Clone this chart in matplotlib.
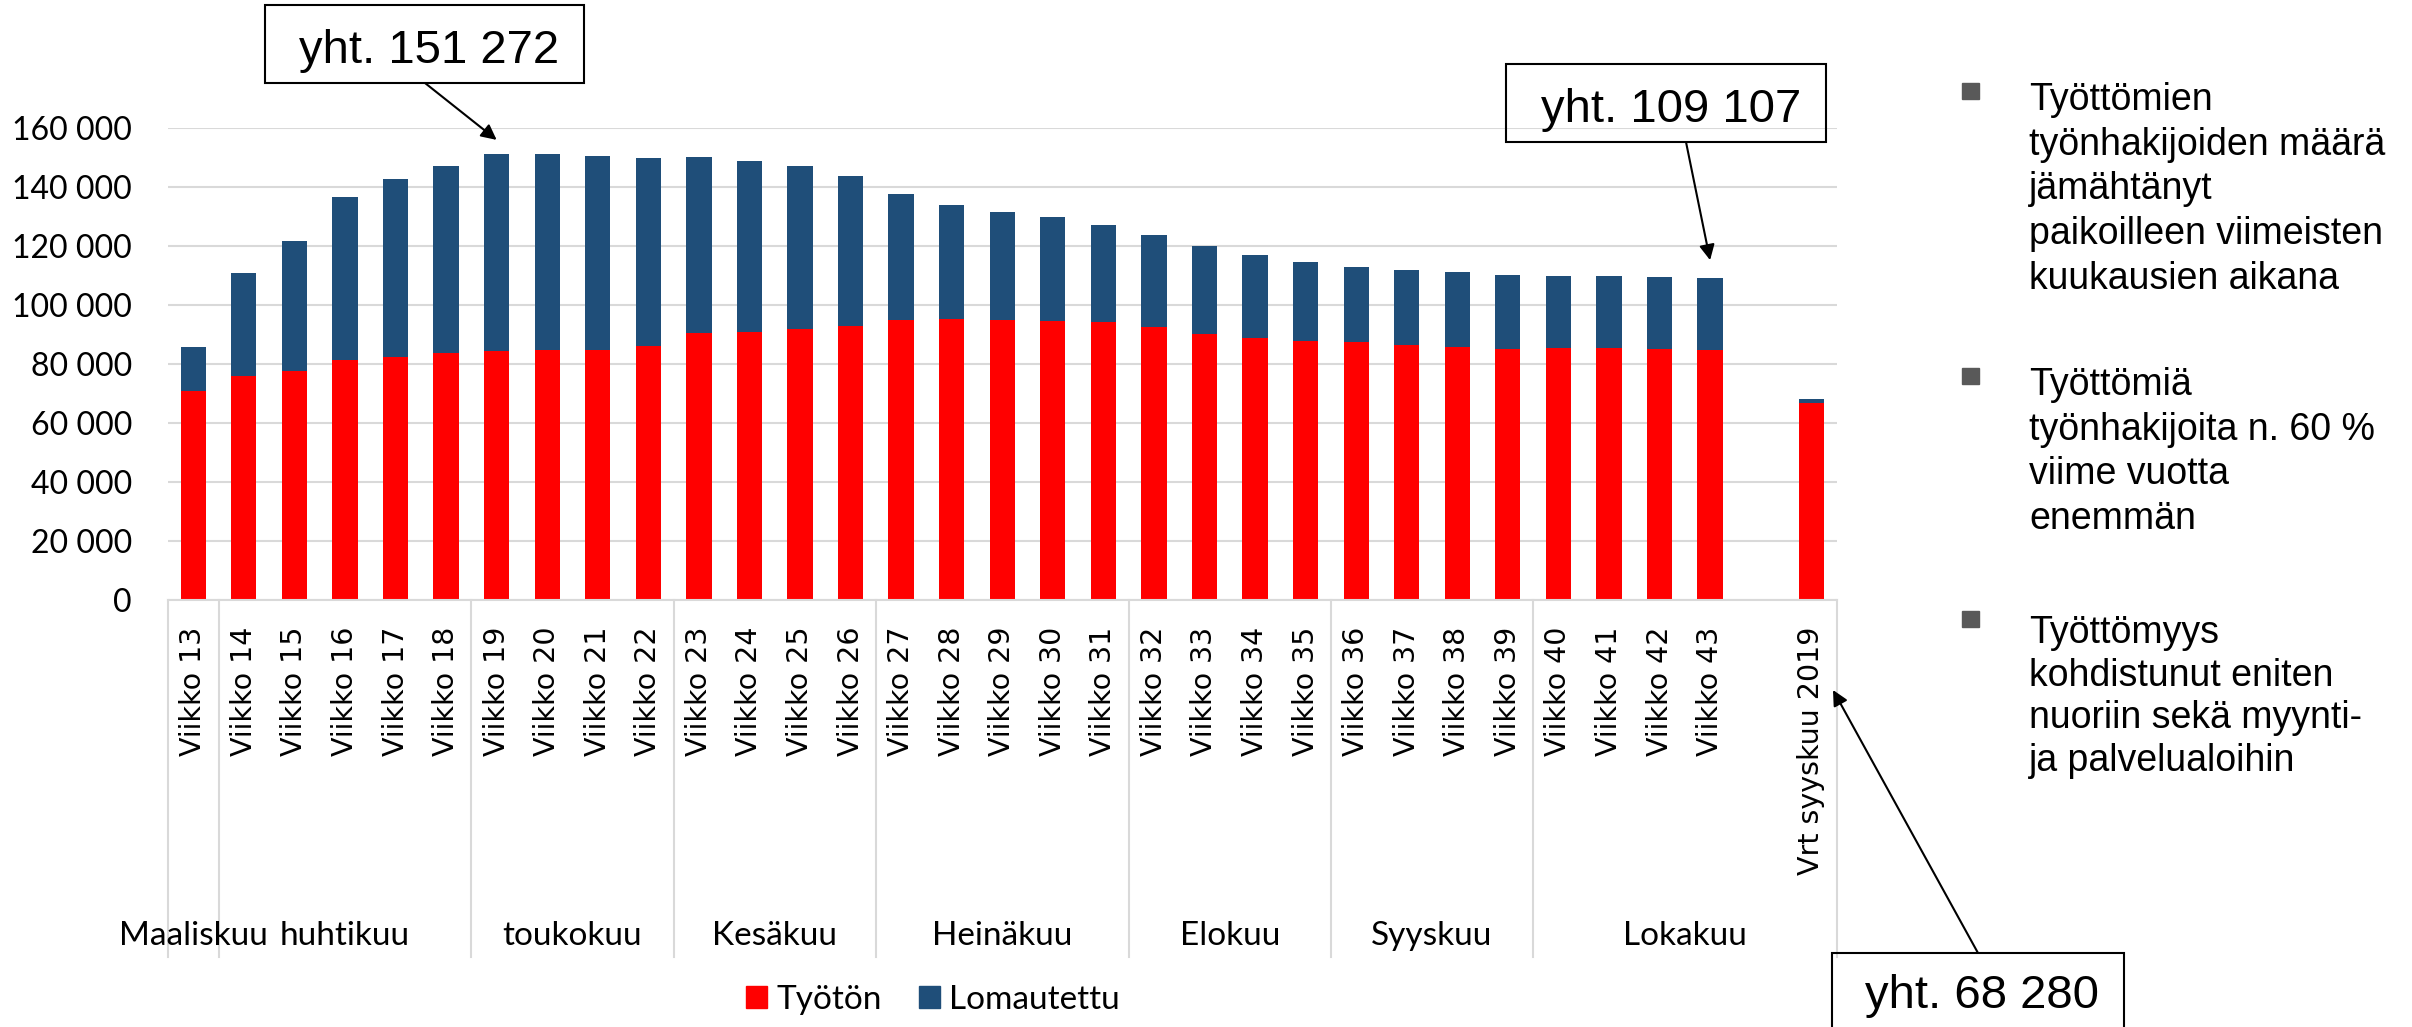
import numpy as np
import matplotlib
matplotlib.use('Agg')
import matplotlib.pyplot as plt
from matplotlib.patches import Patch, Rectangle
from matplotlib.transforms import blended_transform_factory

# data
weeks = ['Viikko 13', 'Viikko 14', 'Viikko 15', 'Viikko 16', 'Viikko 17', 'Viikko 18',
         'Viikko 19', 'Viikko 20', 'Viikko 21', 'Viikko 22', 'Viikko 23', 'Viikko 24',
         'Viikko 25', 'Viikko 26', 'Viikko 27', 'Viikko 28', 'Viikko 29', 'Viikko 30',
         'Viikko 31', 'Viikko 32', 'Viikko 33', 'Viikko 34', 'Viikko 35', 'Viikko 36',
         'Viikko 37', 'Viikko 38', 'Viikko 39', 'Viikko 40', 'Viikko 41', 'Viikko 42',
         'Viikko 43', '', 'Vrt syyskuu 2019']
tyoton = [71000, 75900, 77500, 81400, 82300, 83800, 84400, 84600, 84600, 86200, 90500,
          91000, 91800, 92800, 94800, 95100, 94800, 94500, 94300, 92600, 90300, 88900,
          87700, 87300, 86400, 85600, 85100, 85500, 85300, 85000, 84600, 0, 66700]
lomautettu = [14900, 35100, 44200, 55200, 60400, 63300, 66872, 66600, 66000, 63600, 59800,
              57900, 55300, 51000, 42700, 38900, 36600, 35400, 32800, 31200, 29800, 28200,
              26800, 25500, 25400, 25600, 25100, 24200, 24600, 24500, 24507, 0, 1580]
months = ['Maaliskuu', 'huhtikuu', 'toukokuu', 'Kesäkuu', 'Heinäkuu', 'Elokuu', 'Syyskuu', 'Lokakuu']
month_sizes = [1, 5, 4, 4, 5, 4, 4, 6]
y_ticks = [0, 20000, 40000, 60000, 80000, 100000, 120000, 140000, 160000]

notes = [
    'Työttömien\ntyönhakijoiden määrä\njämähtänyt\npaikoilleen viimeisten\nkuukausien aikana',
    'Työttömiä\ntyönhakijoita n. 60 %\nviime vuotta\nenemmän',
    'Työttömyys\nkohdistunut eniten\nnuoriin sekä myynti-\nja palvelualoihin',
]

RED = '#FF0000'
BLUE = '#1F4E79'
GRID = '#D9D9D9'
W, H = 2412, 1027


def fmt(v):
    return f'{int(v):,}'.replace(',', ' ')


def fx(px):
    return px / W


def fy(py):
    return 1 - py / H


fig = plt.figure(figsize=(W / 100, H / 100), dpi=100)
ax = fig.add_axes([fx(168), fy(600), (1836.5 - 168) / W, 472 / H])

x = np.arange(len(weeks))
ax.bar(x, tyoton, 0.5, color=RED, zorder=2)
ax.bar(x, lomautettu, 0.5, bottom=tyoton, color=BLUE, zorder=2)

ax.set_xlim(-0.5, len(weeks) - 0.5)
ax.set_ylim(0, 160000)
ax.set_yticks(y_ticks)
ax.set_yticklabels([fmt(v) for v in y_ticks], family='Lato', fontsize=23)
ax.set_xticks(x)
ax.set_xticklabels(weeks, rotation=90, family='DejaVu Sans', fontsize=20.5, va='top')
ax.tick_params(axis='y', length=0, pad=26)
ax.tick_params(axis='x', length=0, pad=19)
ax.yaxis.grid(True, color=GRID, lw=1.5)
ax.set_axisbelow(True)
for s in ['top', 'left', 'right']:
    ax.spines[s].set_visible(False)
ax.spines['bottom'].set_color(GRID)
ax.spines['bottom'].set_linewidth(1.5)

# month group lines and labels under the week labels
trans = blended_transform_factory(ax.transData, ax.transAxes)
edges = np.concatenate([[0], np.cumsum(month_sizes)]) - 0.5
for b in edges:
    ax.plot([b, b], [0, -0.756], transform=trans, clip_on=False, color=GRID, lw=1.5)
for i, m in enumerate(months):
    c = (edges[i] + edges[i + 1]) / 2
    ax.text(c, -0.731, m, transform=trans, ha='center', va='baseline', family='Lato', fontsize=24)

# legend
handles = [Patch(color=RED, label='Työtön'), Patch(color=BLUE, label='Lomautettu')]
fig.legend(handles=handles, loc='center left', bbox_to_anchor=(fx(746), fy(1000)), ncol=2,
           frameon=False, prop={'family': 'Lato', 'size': 24}, handlelength=0.64,
           handleheight=0.64, handletextpad=0.28, columnspacing=1.1, borderpad=0,
           borderaxespad=0)

# callout boxes
totals = [t + l for t, l in zip(tyoton, lomautettu)]
i_peak = 6
i_last = 30
i_ref = 32
boxes = [
    (265, 5, 584, 83, 429, 63, i_peak),
    (1506, 64, 1826, 142, 1671, 122, i_last),
    (1832, 953, 2124, 1060, 1982, 1008, i_ref),
]
for x0, y0, x1, y1, tx, ty, i in boxes:
    fig.add_artist(Rectangle((fx(x0), fy(y1)), (x1 - x0) / W, (y1 - y0) / H,
                             transform=fig.transFigure, fill=False, ec='black', lw=1.5))
    fig.text(fx(tx), fy(ty), 'yht. ' + fmt(totals[i]), ha='center', va='baseline',
             family='Liberation Sans', fontsize=34)

arrow = dict(arrowstyle='-|>', color='black', lw=1.5, mutation_scale=23, shrinkA=0, shrinkB=0)
ax.annotate('', xy=(i_peak, totals[i_peak] + 4700), xytext=(425, H - 83),
            textcoords='figure pixels', arrowprops=arrow, annotation_clip=False)
ax.annotate('', xy=(i_last, totals[i_last] + 6100), xytext=(1686, H - 142),
            textcoords='figure pixels', arrowprops=arrow, annotation_clip=False)
ax.annotate('', xy=(1833, H - 690), xycoords='figure pixels', xytext=(1978, H - 953),
            textcoords='figure pixels', arrowprops=arrow, annotation_clip=False)

# bullet notes on the right
bullet_tops = [83, 368, 611]
text_tops = [83, 368, 616]
spacings = [1.31, 1.31, 1.24]
for bt, tt, ls, txt in zip(bullet_tops, text_tops, spacings, notes):
    fig.add_artist(Rectangle((fx(1962), fy(bt + 16)), 17 / W, 16 / H,
                             transform=fig.transFigure, color='#595959'))
    fig.text(fx(2029), fy(tt - 1), txt, ha='left', va='top', family='Liberation Sans',
             fontsize=27, linespacing=ls)

fig.savefig('out.png', dpi=100)
